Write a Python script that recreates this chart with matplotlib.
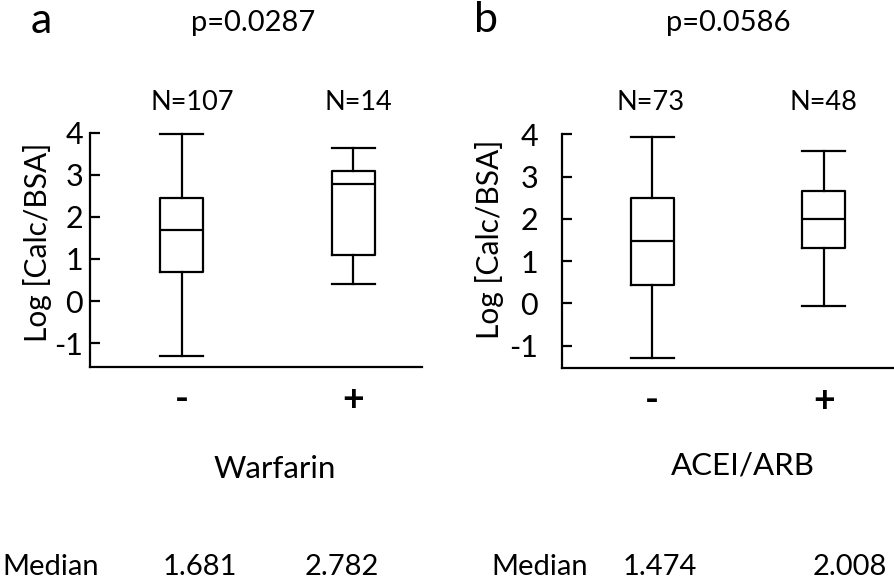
import matplotlib.pyplot as plt

plt.rcParams['font.family'] = ['Lato', 'DejaVu Sans']

# box statistics (whisker low, Q1, median, Q3, whisker high)
groups = ['-', '+']
warf_low = [-1.31, 0.40]
warf_q1 = [0.68, 1.09]
warf_med = [1.681, 2.782]
warf_q3 = [2.46, 3.10]
warf_high = [3.96, 3.64]
warf_n = [107, 14]

acei_low = [-1.30, -0.05]
acei_q1 = [0.44, 1.32]
acei_med = [1.474, 2.008]
acei_q3 = [2.49, 2.67]
acei_high = [3.94, 3.61]
acei_n = [73, 48]

p_values = ['p=0.0287', 'p=0.0586']
drug_names = ['Warfarin', 'ACEI/ARB']
yticks = [-1, 0, 1, 2, 3, 4]

W, H = 894, 580
fig = plt.figure(figsize=(W / 100, H / 100), dpi=100)


def fx(px):
    return px / W


def fy(py):
    return 1 - py / H


def draw_panel(rect, ylow, xlim, tick_pad, label_xy, lows, q1s, meds, q3s, highs):
    ax = fig.add_axes(rect)
    stats = []
    for lo, q1, me, q3, hi, g in zip(lows, q1s, meds, q3s, highs, groups):
        stats.append(dict(whislo=lo, q1=q1, med=me, q3=q3, whishi=hi, label=g, fliers=[]))
    lw = 1.6
    ax.bxp(stats, positions=[1, 2], widths=0.25, capwidths=0.25, showfliers=False,
           boxprops=dict(color='black', linewidth=lw),
           whiskerprops=dict(color='black', linewidth=lw),
           capprops=dict(color='black', linewidth=lw),
           medianprops=dict(color='black', linewidth=lw))
    ax.set_xlim(*xlim)
    ax.set_ylim(ylow, 4)
    ax.spines['top'].set_visible(False)
    ax.spines['right'].set_visible(False)
    ax.spines['left'].set_linewidth(lw)
    ax.spines['bottom'].set_linewidth(lw)
    ax.set_yticks(yticks)
    ax.set_yticklabels([str(t) for t in yticks], fontsize=22)
    ax.tick_params(axis='y', direction='in', length=7.5, width=lw, pad=tick_pad)
    ax.set_xticks([])
    for x, g in zip([1, 2], groups):
        ax.text(x, -33 / 234, g, transform=ax.get_xaxis_transform(), fontsize=27,
                fontweight='bold', ha='center', va='center')
    ax.set_ylabel('Log [Calc/BSA]', fontsize=21.5)
    ax.yaxis.label.set_va('center')
    ax.yaxis.set_label_coords(*label_xy)
    for c in ax.get_children():
        c.set_clip_on(False)
    return ax


axa = draw_panel([fx(90), fy(366.7), fx(331.7), fy(132.7) - fy(366.7)],
                 -1.56, (0.466, 2.40), 5, (-0.157, 0.531),
                 warf_low, warf_q1, warf_med, warf_q3, warf_high)
axb = draw_panel([fx(561.7), fy(367.7), fx(332.3), fy(134.3) - fy(367.7)],
                 -1.52, (0.472, 2.41), 17, (-0.216, 0.551),
                 acei_low, acei_q1, acei_med, acei_q3, acei_high)

# panel letters and p values
fig.text(fx(41), fy(21), 'a', fontsize=31, ha='center', va='center')
fig.text(fx(486), fy(20), 'b', fontsize=31, ha='center', va='center')
fig.text(fx(253), fy(23), p_values[0], fontsize=21, ha='center', va='center')
fig.text(fx(728), fy(23), p_values[1], fontsize=21, ha='center', va='center')

# N labels
for x, n in zip([192, 358], warf_n):
    fig.text(fx(x), fy(102), f'N={n}', fontsize=19.5, ha='center', va='center')
for x, n in zip([651, 823], acei_n):
    fig.text(fx(x), fy(102), f'N={n}', fontsize=19.5, ha='center', va='center')

# drug names
fig.text(fx(275), fy(469), drug_names[0], fontsize=22.5, ha='center', va='center')
fig.text(fx(743), fy(466), drug_names[1], fontsize=22.5, ha='center', va='center')

# median row
fig.text(fx(51), fy(567), 'Median', fontsize=21, ha='center', va='center')
for x, m in zip([200, 342], warf_med):
    fig.text(fx(x), fy(567), f'{m:.3f}', fontsize=21, ha='center', va='center')
fig.text(fx(540), fy(567), 'Median', fontsize=21, ha='center', va='center')
for x, m in zip([660, 850], acei_med):
    fig.text(fx(x), fy(567), f'{m:.3f}', fontsize=21, ha='center', va='center')

fig.savefig('out.png', dpi=100)
